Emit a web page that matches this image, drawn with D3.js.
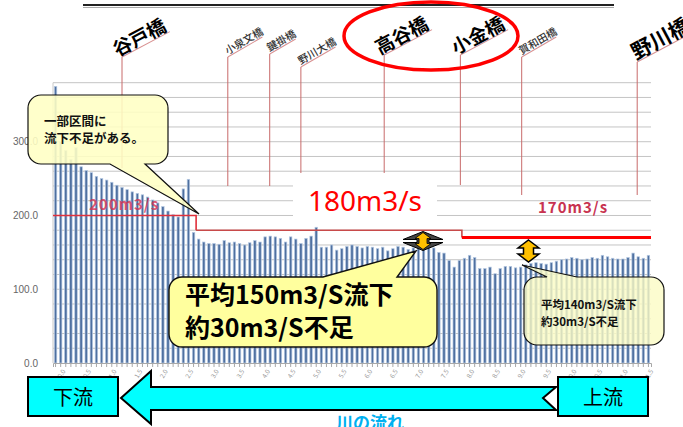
<!DOCTYPE html>
<html>
<head>
<meta charset="utf-8">
<script src="https://cdn.jsdelivr.net/npm/d3@7"></script>
<style>
  body { margin: 0; background: #fff; }
  svg { display: block; font-family: "Noto Sans CJK JP", "Noto Sans", sans-serif; }
</style>
</head>
<body>
<svg id="chart" width="683" height="427"></svg>
<script>
// flow capacity per section, downstream (left) to upstream (right), m3/s
var flows = [
  375, 300, 288, 276, 292, 266, 261, 258, 253, 250,
  248, 245, 241, 238, 235, 232, 230, 228, 225, 221,
  217, 212, 206, 201, 198, 236, 249, 177,
  168, 164, 162, 162, 161, 166, 163, 164, 162, 160,
  163, 166, 164, 171, 172, 171, 169, 164, 171, 168,
  162, 169, 172, 184, 157, 157, 160, 153, 155, 158,
  160, 158, 156, 158, 157, 155, 157, 152, 155, 158,
  157, 154, 156, 157, 155, 158, 156, 150, 149, 139,
  130, 139,
  142, 146, 143, 128, 128, 130, 121, 128, 131, 131,
  129, 130, 133, 135, 136, 135, 134, 136, 138, 140,
  141, 143, 142, 140, 141, 143, 142, 146, 144, 142,
  141, 141, 143, 149, 144, 142, 146
];
var yTicks = [0, 100, 200, 300];
var gridMax = 380;

// target flow per reach (bar index range)
var targets = [
  { from: 0,  to: 28,  value: 200, label: "200m3/s" },
  { from: 28, to: 80,  value: 180, label: "180m3/s" },
  { from: 80, to: 117, value: 170, label: "170m3/s" }
];

// bridges, position in bar units
var bridges = [
  { name: "谷戸橋",   pos: 13.0,  major: true },
  { name: "小泉文橋", pos: 33.7,  major: false },
  { name: "鍵掛橋",   pos: 41.9,  major: false },
  { name: "野川大橋", pos: 48.0,  major: false },
  { name: "高谷橋",   pos: 64.3,  major: true },
  { name: "小金橋",   pos: 79.2,  major: true },
  { name: "賀和田橋", pos: 91.2,  major: false },
  { name: "野川橋",   pos: 113.8, major: true }
];

var tickLabels = ["0.0","0.5","1.0","1.5","2.0","2.5","3.0","3.5","4.0","4.5","5.0","5.5",
                  "6.0","6.5","7.0","7.5","8.0","8.5","9.0","9.5","10.0","10.5","11.0","11.5"];

var svg = d3.select("#chart");

var x = d3.scaleBand().domain(d3.range(flows.length)).range([53, 651]).paddingInner(0.52).paddingOuter(0.26);
var y = d3.scaleLinear().domain([0, gridMax]).range([363, 82.7]);

var xc = function(p) { return x(0) + x.bandwidth() / 2 + p * x.step(); };
var xEdge = function(i) { return x(0) - x.step() * 0.26 + i * x.step(); };

// top rule (title clipped off)
svg.append("line").attr("x1", 83).attr("x2", 614).attr("y1", 5).attr("y2", 5)
  .attr("stroke", "#222").attr("stroke-width", 2);
svg.append("line").attr("x1", 83).attr("x2", 614).attr("y1", 7.5).attr("y2", 7.5)
  .attr("stroke", "#aaa").attr("stroke-width", 1);

// grid
svg.append("g").selectAll("line")
  .data(d3.range(20, gridMax + 1, 20))
  .join("line")
  .attr("x1", 53).attr("x2", 651)
  .attr("y1", function(d) { return y(d); }).attr("y2", function(d) { return y(d); })
  .attr("stroke", "#c4c4c4").attr("stroke-width", 1);

svg.append("line").attr("x1", 53).attr("x2", 53).attr("y1", y(gridMax)).attr("y2", y(0))
  .attr("stroke", "#c8c8c8");

var yAxis = svg.append("g").attr("transform", "translate(53,0)")
  .call(d3.axisLeft(y).tickValues(yTicks).tickFormat(d3.format(".1f")).tickSize(0).tickPadding(15));
yAxis.select(".domain").remove();
yAxis.selectAll("text").attr("fill", "#666").attr("font-size", 10)
  .attr("font-family", "Liberation Sans, Arial, sans-serif");

// x tick labels (mostly hidden by the arrow)
svg.append("g").selectAll("text")
  .data(tickLabels)
  .join("text")
  .attr("transform", function(d, i) { return "translate(" + xc(i * 5 + 2) + ",371) rotate(-60)"; })
  .attr("text-anchor", "end")
  .attr("font-size", 6.5)
  .attr("fill", "#999")
  .text(function(d) { return d; });

// bars
svg.append("g").selectAll("rect")
  .data(flows)
  .join("rect")
  .attr("x", function(d, i) { return x(i); })
  .attr("width", x.bandwidth())
  .attr("y", function(d) { return y(d); })
  .attr("height", function(d) { return y(0) - y(d); })
  .attr("fill", "#4f70a0")
  .attr("stroke", "#b4c8e2")
  .attr("stroke-width", 0.7);

// 200m3/s label, bars show through it
svg.append("text").attr("x", 89).attr("y", 210)
  .attr("font-size", 15).attr("font-weight", 600).attr("letter-spacing", 1)
  .attr("fill", "#d63050").attr("fill-opacity", 0.8).text(targets[0].label);

var xAxis = svg.append("g").attr("transform", "translate(0," + y(0) + ")")
  .call(d3.axisBottom(x).tickSize(4).tickFormat(""));
xAxis.selectAll("line").attr("stroke", "#a8a8a8");
xAxis.select(".domain").attr("stroke", "#a8a8a8");

// target lines
var tColors = ["#e0303c", "#c84a4a", "#ff0000"];
var tWidths = [1.6, 1.6, 3];
targets.forEach(function(t, k) {
  var d = "M" + xEdge(t.from) + "," + y(t.value) + "H" + xEdge(t.to);
  if (k < targets.length - 1) d += "V" + y(targets[k + 1].value);
  svg.append("path").attr("d", d).attr("fill", "none")
    .attr("stroke", tColors[k]).attr("stroke-width", tWidths[k]);
});

// bridges
var lineEnds = {
  "谷戸橋": [57, 168], "小泉文橋": [57, 186], "鍵掛橋": [54, 186], "野川大橋": [67, 176],
  "高谷橋": [55, 183], "小金橋": [55, 185], "賀和田橋": [57, 195], "野川橋": [62, 195]
};
bridges.forEach(function(b) {
  var bx = xc(b.pos), e = lineEnds[b.name];
  svg.append("line").attr("x1", bx).attr("x2", bx).attr("y1", e[0]).attr("y2", e[1])
    .attr("stroke", "#c86a6a").attr("stroke-width", 1);
  var g = svg.append("g")
    .attr("transform", "translate(" + bx + "," + e[0] + ") rotate(" + (b.major ? -28 : -30) + ")");
  var fs = b.major ? 19 : 10.5;
  g.append("line").attr("x1", 0).attr("x2", b.name.length * fs * 0.95).attr("y1", 0).attr("y2", 0)
    .attr("stroke", "#d89090").attr("stroke-width", 1);
  g.append("text").attr("x", b.major ? (b.name === "野川橋" ? 0 : -4) : 1).attr("y", -2)
    .attr("font-size", b.name === "野川橋" ? 21 : fs).attr("font-weight", b.major ? 700 : 500)
    .attr("fill", b.major ? "#000" : "#333").text(b.name);
});

// 180m3/s box
svg.append("rect").attr("x", 293).attr("y", 173).attr("width", 144).attr("height", 47).attr("fill", "#fff");
svg.append("text").attr("x", 365).attr("y", 211).attr("text-anchor", "middle")
  .attr("font-size", 28).attr("fill", "#ff0000")
  .attr("font-family", "Noto Sans, sans-serif").text(targets[1].label);

svg.append("text").attr("x", 538).attr("y", 213)
  .attr("font-size", 15).attr("font-weight", 600).attr("letter-spacing", 1)
  .attr("fill", "#c83250").text(targets[2].label);

// red ellipse
svg.append("ellipse").attr("cx", 431).attr("cy", 36).attr("rx", 87).attr("ry", 34)
  .attr("fill", "none").attr("stroke", "#ff0000").attr("stroke-width", 3.5);

// callouts
function callout(bx, by, w, h, r, side, a, b, tip) {
  var p = d3.path();
  p.moveTo(bx + r, by);
  if (side === "top") { p.lineTo(a, by); p.lineTo(tip[0], tip[1]); p.lineTo(b, by); }
  p.lineTo(bx + w - r, by);
  p.arcTo(bx + w, by, bx + w, by + r, r);
  p.lineTo(bx + w, by + h - r);
  p.arcTo(bx + w, by + h, bx + w - r, by + h, r);
  if (side === "bottom") { p.lineTo(b, by + h); p.lineTo(tip[0], tip[1]); p.lineTo(a, by + h); }
  p.lineTo(bx + r, by + h);
  p.arcTo(bx, by + h, bx, by + h - r, r);
  p.lineTo(bx, by + r);
  p.arcTo(bx, by, bx + r, by, r);
  p.closePath();
  return p.toString();
}

svg.append("path").attr("d", callout(28, 95, 140, 69, 13, "bottom", 110, 145, [199, 214]))
  .attr("fill", "#ffffc4").attr("fill-opacity", 0.88).attr("stroke", "#111").attr("stroke-width", 1.2);
svg.append("text").attr("x", 44).attr("font-size", 12.5).attr("font-weight", 700).attr("fill", "#111")
  .selectAll("tspan").data(["一部区間に", "流下不足がある。"]).join("tspan")
  .attr("x", 44).attr("y", function(d, i) { return 126 + i * 17; }).text(function(d) { return d; });

svg.append("path").attr("d", callout(169, 277, 268, 70, 13, "top", 323, 397, [416, 251]))
  .attr("fill", "#ffff9e").attr("stroke", "#111").attr("stroke-width", 1.4);
svg.append("text").attr("font-size", 25).attr("font-weight", 700).attr("fill", "#000")
  .selectAll("tspan").data(["平均150m3/S流下", "約30m3/S不足"]).join("tspan")
  .attr("x", 185).attr("y", function(d, i) { return 304 + i * 33; }).text(function(d) { return d; });

svg.append("path").attr("d", callout(524, 277, 140, 68, 13, "top", 547, 577, [522, 265]))
  .attr("fill", "#fbfbc4").attr("fill-opacity", 0.8).attr("stroke", "#111").attr("stroke-width", 1.2);
svg.append("text").attr("font-size", 11.5).attr("font-weight", 700).attr("fill", "#111")
  .selectAll("tspan").data(["平均140m3/S流下", "約30m3/S不足"]).join("tspan")
  .attr("x", 541).attr("y", function(d, i) { return 309 + i * 17; }).text(function(d) { return d; });

// double arrows (shortfall)
function dblArrow(cx, cy, hw, sw, h, hh) {
  var t = cy - h / 2, bt = cy + h / 2;
  return [[cx, t], [cx + hw / 2, t + hh], [cx + sw / 2, t + hh], [cx + sw / 2, bt - hh],
          [cx + hw / 2, bt - hh], [cx, bt], [cx - hw / 2, bt - hh], [cx - sw / 2, bt - hh],
          [cx - sw / 2, t + hh], [cx - hw / 2, t + hh]].join(" ");
}
svg.append("polygon").attr("points", dblArrow(423, 241, 40, 12, 19, 8))
  .attr("fill", "#444").attr("stroke", "#000").attr("stroke-width", 1);
svg.append("polygon").attr("points", dblArrow(423, 241, 16, 8, 17, 6))
  .attr("fill", "#ffc000").attr("stroke", "#000").attr("stroke-width", 0.8);
svg.append("polygon").attr("points", dblArrow(528.5, 251, 21, 10, 22, 8))
  .attr("fill", "#ffc000").attr("stroke", "#000").attr("stroke-width", 1.5);

// river flow arrow
svg.append("polygon")
  .attr("points", [[121, 398], [151, 371], [151, 387], [556, 387], [543, 398], [556, 410],
                   [151, 410], [151, 424]].join(" "))
  .attr("fill", "#00ffff").attr("stroke", "#000").attr("stroke-width", 2);

[["下流", 28], ["上流", 558]].forEach(function(b) {
  svg.append("rect").attr("x", b[1]).attr("y", 377).attr("width", 90).attr("height", 39)
    .attr("fill", "#00ffff").attr("stroke", "#000").attr("stroke-width", 2);
  svg.append("text").attr("x", b[1] + 45).attr("y", 405).attr("text-anchor", "middle")
    .attr("font-size", 20).attr("fill", "#000").text(b[0]);
});

svg.append("text").attr("x", 370).attr("y", 429).attr("text-anchor", "middle")
  .attr("font-size", 17).attr("font-weight", 700).attr("fill", "#00b0f0").text("川の流れ");
</script>
</body>
</html>
